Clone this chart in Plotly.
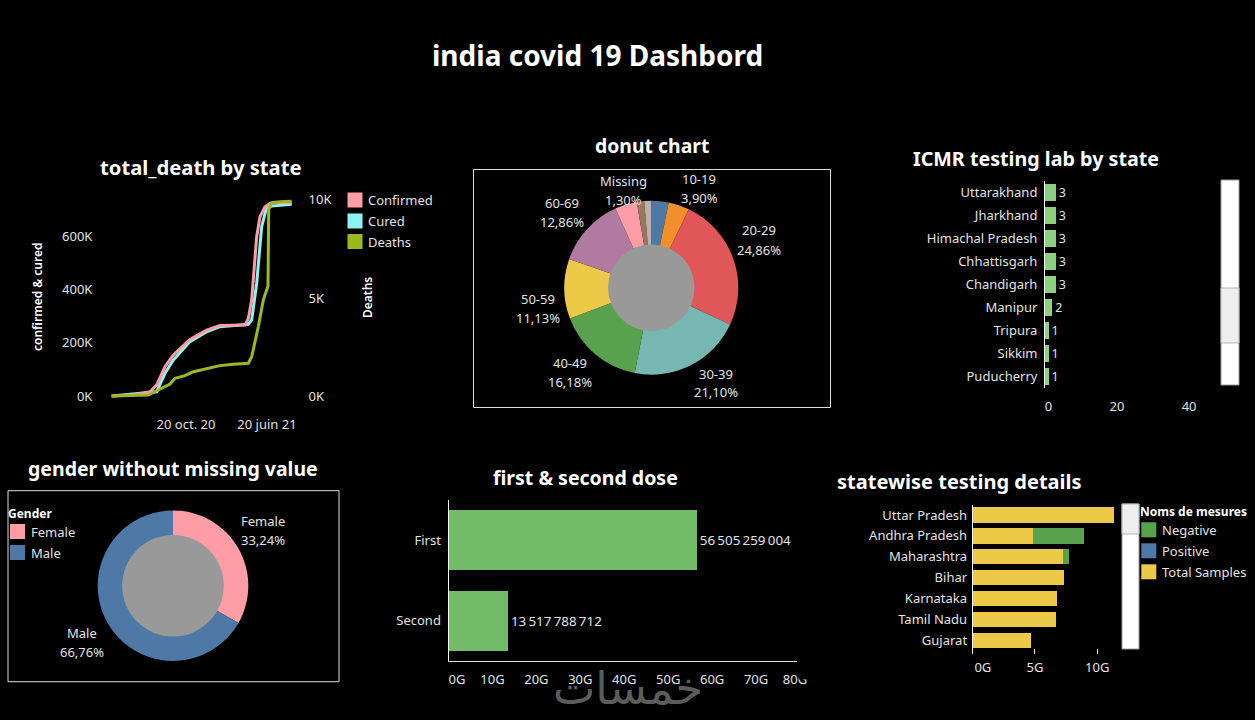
import plotly.graph_objects as go

W, H = 1255, 720
FONT = "Noto Sans"
TXT = "#e2e2e2"

# --- line chart
conf_dates = ["2020-03-11", "2020-05-15", "2020-07-04", "2020-07-24", "2020-08-18", "2020-09-12", "2020-11-01",
              "2020-12-21", "2021-01-30", "2021-03-11", "2021-04-15", "2021-04-25", "2021-05-05", "2021-05-20",
              "2021-05-30", "2021-06-14", "2021-06-29", "2021-07-29", "2021-09-02"]
confirmed = [0, 4, 16, 41, 110, 154, 212, 247, 264, 264, 266, 291, 360, 597, 672, 710, 722, 725, 726]
cured_dates = ["2020-03-11", "2020-07-24", "2020-08-18", "2020-09-12", "2020-11-01", "2020-12-21", "2021-01-30",
               "2021-03-11", "2021-04-25", "2021-05-05", "2021-05-20", "2021-06-04", "2021-06-18", "2021-07-04",
               "2021-09-02"]
cured = [0, 16, 85, 135, 204, 241, 260, 264, 269, 285, 422, 635, 704, 712, 719]
death_dates = ["2020-03-11", "2020-05-15", "2020-06-29", "2020-07-24", "2020-09-02", "2020-09-17", "2020-10-17",
               "2020-11-11", "2020-12-21", "2021-01-30", "2021-03-11", "2021-04-25", "2021-05-05", "2021-05-25",
               "2021-06-09", "2021-06-23", "2021-06-25", "2021-07-04", "2021-07-29", "2021-09-02"]
deaths = [0, 0.02, 0.05, 0.27, 0.61, 0.9, 1.04, 1.24, 1.41, 1.55, 1.62, 1.67, 2.0, 3.54, 4.9, 5.61, 9.49, 9.86,
          9.91, 9.93]
line_names = ["Confirmed", "Cured", "Deaths"]
line_colors = ["#FF9DA7", "#8EF3F3", "#9BB81C"]

# --- donut
age_labels = ["0-9", "10-19", "20-29", "30-39", "40-49", "50-59", "60-69", "70-79", "80-89", "Missing"]
age_pct = [3.2, 3.90, 24.86, 21.10, 16.18, 11.13, 12.86, 4.1, 1.37, 1.30]
age_colors = ["#4E79A7", "#F28E2B", "#E15759", "#76B7B2", "#59A14F", "#EDC948", "#B07AA1", "#FF9DA7", "#9C755F",
              "#BAB0AC"]
age_shown = ["Missing", "10-19", "20-29", "30-39", "40-49", "50-59", "60-69"]
age_label_pos = [(623, 190), (699, 188), (759, 240), (716, 383), (570, 372), (538, 308), (562, 212)]

# --- gender
gender_labels = ["Female", "Male"]
gender_pct = [33.24, 66.76]
gender_colors = ["#FF9DA7", "#4E79A7"]
gender_label_pos = [(263, 530), (82, 642)]

# --- labs
lab_states = ["Uttarakhand", "Jharkhand", "Himachal Pradesh", "Chhattisgarh", "Chandigarh", "Manipur", "Tripura",
              "Sikkim", "Puducherry"]
lab_counts = [3, 3, 3, 3, 3, 2, 1, 1, 1]

# --- doses
dose_names = ["First", "Second"]
dose_values = [56505259004, 13517788712]
dose_ticks = [0, 10, 20, 30, 40, 50, 60, 70, 80]

# --- testing
test_states = ["Uttar Pradesh", "Andhra Pradesh", "Maharashtra", "Bihar", "Karnataka", "Tamil Nadu", "Gujarat"]
total_samples = [11.32, 4.84, 7.22, 7.36, 6.74, 6.66, 4.65]
negative = [0, 4.07, 0.51, 0, 0, 0, 0]
positive = [0, 0, 0, 0, 0, 0, 0]
test_names = ["Negative", "Positive", "Total Samples"]
test_colors = ["#59A14F", "#4E79A7", "#EDC948"]


def px_x(x):
    return x / W


def px_y(y):
    return 1 - y / H


def dom_x(x0, x1):
    return [px_x(x0), px_x(x1)]


def dom_y(top, bottom):
    return [px_y(bottom), px_y(top)]


annotations = []
shapes = []


def text(x, y, s, size=13, color=TXT, weight=None, anchor="center", angle=0, family=FONT):
    annotations.append(dict(x=px_x(x), y=px_y(y), xref="paper", yref="paper", text=s, showarrow=False,
                            xanchor=anchor, yanchor="middle", textangle=angle,
                            font=dict(family=family, size=size, color=color, weight=weight)))


def rect(x0, y0, x1, y1, fill=None, line=None, width=1):
    shapes.append(dict(type="rect", xref="paper", yref="paper", x0=px_x(x0), x1=px_x(x1), y0=px_y(y0), y1=px_y(y1),
                       fillcolor=fill, line=dict(color=line, width=width if line else 0)))


def legend(names, colors, swatch_x, text_x, tops, sw=15, sh=15):
    for name, color, top in zip(names, colors, tops):
        rect(swatch_x, top, swatch_x + sw, top + sh, fill=color)
        text(text_x, top + sh / 2, name, anchor="left")


def scrollbar(x0, x1, y0, y1, t0, t1):
    rect(x0, y0, x1, y1, fill="white", line="#9a9a9a")
    rect(x0, t0, x1, t1, fill="#eeeeee", line="#b5b5b5")


def pct_label(name, pct, x, y):
    text(x, y - 9.5, name)
    text(x, y + 9.5, f"{pct:.2f}%".replace(".", ","))


def donut(labels, vals, colors, cx, cy, r_out, r_in):
    fig.add_trace(go.Pie(labels=labels, values=vals, sort=False, direction="clockwise", rotation=0,
                         marker=dict(colors=colors, line=dict(width=0)), textinfo="none",
                         domain=dict(x=dom_x(cx - r_out, cx + r_out), y=dom_y(cy - r_out, cy + r_out))))
    # Tableau donuts are a smaller pie on top
    fig.add_trace(go.Pie(values=[1], labels=[""], marker=dict(colors=["#999999"], line=dict(width=0)), textinfo="none",
                         domain=dict(x=dom_x(cx - r_in, cx + r_in), y=dom_y(cy - r_in, cy + r_in))))


fig = go.Figure()

# line chart, two value axes (confirmed sits on top of cured in the original)
fig.add_trace(go.Scatter(x=cured_dates, y=cured, mode="lines", line=dict(color=line_colors[1], width=3),
                         xaxis="x", yaxis="y"))
fig.add_trace(go.Scatter(x=conf_dates, y=confirmed, mode="lines", line=dict(color=line_colors[0], width=3),
                         xaxis="x", yaxis="y"))
fig.add_trace(go.Scatter(x=death_dates, y=deaths, mode="lines", line=dict(color=line_colors[2], width=3),
                         xaxis="x", yaxis="y2"))

donut(age_labels, age_pct, age_colors, 651.3, 287.7, 87, 43.3)
donut(gender_labels, gender_pct, gender_colors, 173, 585.7, 75.3, 50.8)

# labs
fig.add_trace(go.Bar(y=lab_states, x=lab_counts, orientation="h", marker=dict(color="#8CD17D", line=dict(width=0)),
                     text=lab_counts, textposition="outside", cliponaxis=False,
                     textfont=dict(family=FONT, size=13, color=TXT), width=0.75, xaxis="x3", yaxis="y3"))

# doses
dose_text = [f"{v:,}".replace(",", "\u2009") for v in dose_values]
fig.add_trace(go.Bar(y=dose_names, x=dose_values, orientation="h", marker=dict(color="#71BB69", line=dict(width=0)),
                     text=dose_text, textposition="outside", cliponaxis=False,
                     textfont=dict(family=FONT, size=13.4, color=TXT), width=0.75, xaxis="x4", yaxis="y4"))

# testing
for vals, name, color in [(total_samples, "Total Samples", test_colors[2]), (negative, "Negative", test_colors[0]),
                          (positive, "Positive", test_colors[1])]:
    fig.add_trace(go.Bar(y=test_states, x=vals, name=name, orientation="h", marker=dict(color=color, line=dict(width=0)),
                         width=0.73, xaxis="x5", yaxis="y5"))

tick = dict(family=FONT, size=13, color=TXT)
hidden = dict(showgrid=False, zeroline=False, showline=False, tickfont=tick, tickcolor="rgba(0,0,0,0)",
              automargin=False)
dose_text_ticks = ["\u00a0\u00a0\u00a0\u00a0\u00a00G"] + [f"{t}G" for t in dose_ticks[1:-1]] + ["80G\u00a0\u00a0\u00a0"]

fig.update_layout(
    width=W, height=H, margin=dict(l=0, r=0, t=0, b=0), paper_bgcolor="black", plot_bgcolor="rgba(0,0,0,0)",
    showlegend=False, barmode="stack",
    xaxis=dict(hidden, domain=dom_x(100, 303), type="date", range=["2020-02-05", "2021-10-06"],
               tickvals=["2020-10-20", "2021-06-20"], ticktext=["20 oct. 20", "20 juin 21"], ticks="outside",
               ticklen=12, anchor="y"),
    yaxis=dict(hidden, domain=dom_y(196, 400), range=[-15, 750], tickvals=[0, 200, 400, 600],
               ticktext=["0K", "200K", "400K", "600K"], ticks="outside", ticklen=4, anchor="x"),
    yaxis2=dict(hidden, domain=dom_y(196, 400), range=[-0.204, 10.2], tickvals=[0, 5, 10],
                ticktext=["0K", "5K", "10K"], ticks="outside", ticklen=2, overlaying="y", side="right", anchor="x"),
    xaxis3=dict(hidden, domain=dom_x(1045, 1215), range=[0, 47.2], tickvals=[0, 20, 40],
                ticktext=["\u00a0\u00a00", "20", "40"], ticks="outside", ticklen=6, anchor="y3"),
    yaxis3=dict(hidden, domain=dom_y(181, 388), autorange="reversed", ticks="outside", ticklen=4, anchor="x3",
                showline=True, linecolor="white", linewidth=1),
    xaxis4=dict(hidden, domain=dom_x(448.5, 800), range=[0, 80e9], tickvals=[t * 1e9 for t in dose_ticks],
                ticktext=dose_text_ticks, anchor="y4",
                showline=True, linecolor="#dddddd", linewidth=1, ticks="outside", ticklen=6),
    yaxis4=dict(hidden, domain=dom_y(500, 661), autorange="reversed", ticks="outside", ticklen=4, anchor="x4",
                showline=True, linecolor="white", linewidth=1),
    xaxis5=dict(hidden, domain=dom_x(972.7, 1118), range=[0, 11.67], tickvals=[0, 5, 10],
                ticktext=["\u00a0\u00a0\u00a0\u00a0\u00a0\u00a00G", "5G", "10G"], ticks="inside", ticklen=5,
                ticklabelstandoff=4, tickcolor="white", anchor="y5"),
    yaxis5=dict(hidden, domain=dom_y(504.5, 654), range=[6.64, -0.5], type="category",
                categoryorder="array", categoryarray=test_states, ticks="outside", ticklen=2, anchor="x5",
                showline=True, linecolor="white", linewidth=1),
)

# titles
text(597, 55, "india covid 19 Dashbord", size=28, color="white", weight=700)
text(201, 167.5, "total_death by state", size=20.2, color="white", weight=700)
text(652, 145.5, "donut chart", size=19.4, color="white", weight=700)
text(1036, 158.5, "ICMR testing lab by state", size=19.7, color="white", weight=700)
text(173, 468.5, "gender without missing value", size=19.5, color="white", weight=700)
text(585, 477.5, "first & second dose", size=19.5, color="white", weight=700)
text(959, 482, "statewise testing details", size=20, color="white", weight=700)

# axis titles of the line chart
text(37, 297, "confirmed & cured", size=12, color="white", weight=600, angle=-90)
text(367, 298, "Deaths", size=12, color="white", weight=600, angle=-90)

# boxes around the donuts
rect(473.5, 169.5, 830.5, 407.5, line="#dddddd")
rect(8, 490.7, 339, 681.7, line="#dddddd")

# slice labels
for name, (x, y) in zip(age_shown, age_label_pos):
    pct_label(name, age_pct[age_labels.index(name)], x, y)
for name, val, (x, y) in zip(gender_labels, gender_pct, gender_label_pos):
    pct_label(name, val, x, y)

# legends
legend(line_names, line_colors, 347.5, 366, [192.5, 213.5, 234])
text(6, 513, "Gender", size=12, color="white", weight=700, anchor="left")
legend(gender_labels, gender_colors, 10, 29, [524, 545])
text(1138, 511, "Noms de mesures", size=12, color="white", weight=700, anchor="left")
legend(test_names, test_colors, 1141.3, 1160, [522.3, 543.3, 564.3])

# scrollbars
scrollbar(1221, 1239, 180, 385, 288, 343)
scrollbar(1122, 1139, 504, 649, 504, 534)

# the last dose tick is cut off by the sheet edge in the original
rect(797, 659, 803, 663, fill="black")
rect(799, 668, 809, 679.5, fill="black")

# watermark
text(628, 688, "خمسات", size=45, color="#5c5c5c", family="DejaVu Sans")

fig.update_layout(annotations=annotations, shapes=shapes)
# the default page keeps an 8px body margin that would show as a white frame
fig.write_html("out.html", config={"displayModeBar": False},
               post_script="document.body.style.margin='0';document.body.style.overflow='hidden';")
